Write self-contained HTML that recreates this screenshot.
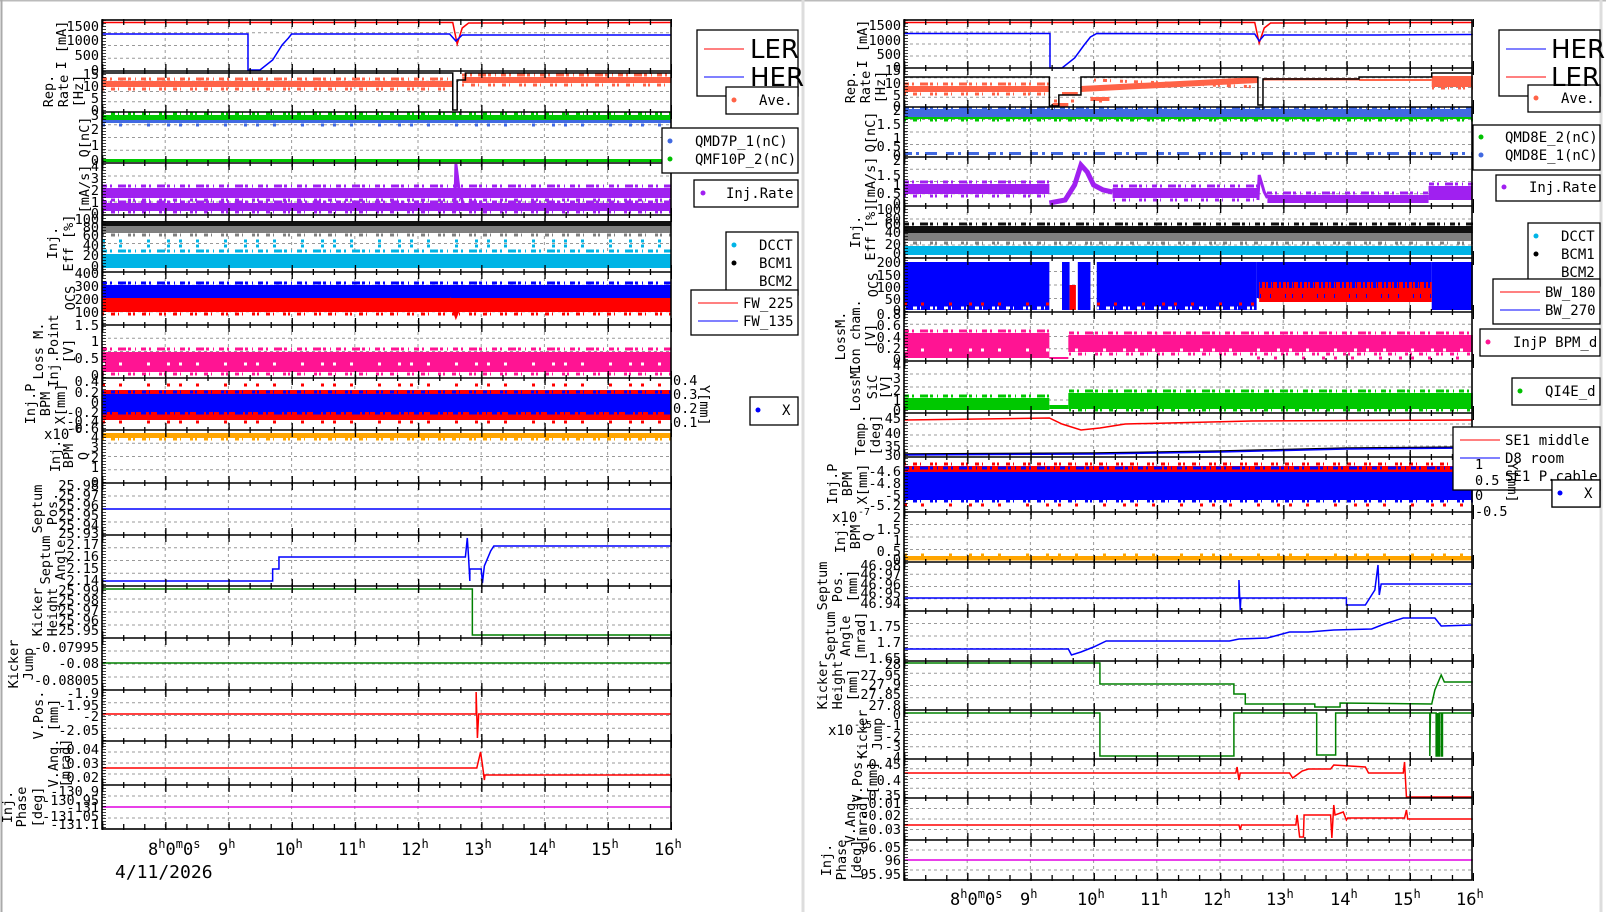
<!DOCTYPE html>
<html><head><meta charset="utf-8"><style>
html,body{margin:0;padding:0;background:#fff;width:1606px;height:912px;overflow:hidden}
svg{display:block;font-family:"DejaVu Sans Mono","Liberation Mono",monospace}
.t{font-size:13.5px;text-anchor:end}
.ti{font-size:13.5px;text-anchor:middle}
.lg{font-size:14px}
.ln{fill:none;stroke-width:1.5;vector-effect:non-scaling-stroke}
.s1{fill:none;stroke-width:3;stroke-dasharray:5 3 2 6 8 2 3 4 1 5}
.s2{fill:none;stroke-width:3;stroke-dasharray:2 7 4 3 1 9 3 2}
.s3{fill:none;stroke-width:3;stroke-dasharray:3 14 3 25 3 17 3 9}
</style></head><body>
<svg width="1606" height="912" viewBox="0 0 1606 912" xmlns="http://www.w3.org/2000/svg">
<rect x="0" y="0" width="1606" height="912" fill="#fff"/>
<line x1="0" y1="0.5" x2="1606" y2="0.5" stroke="#bbb" stroke-width="2"/>
<line x1="1.5" y1="0" x2="1.5" y2="912" stroke="#aaa" stroke-width="2"/>
<line x1="803" y1="0" x2="803" y2="912" stroke="#ddd" stroke-width="3"/>
<line x1="1601" y1="0" x2="1601" y2="912" stroke="#ddd" stroke-width="3"/>

<!-- GRIDS -->
<g stroke="#999" stroke-width="1" stroke-dasharray="3,3" fill="none">
<path d="M165.2 20V829M228.4 20V829M291.6 20V829M354.8 20V829M418 20V829M481.2 20V829M544.4 20V829M607.6 20V829"/>
<path d="M967.2 20V880M1030.4 20V880M1093.6 20V880M1156.8 20V880M1220 20V880M1283.2 20V880M1346.4 20V880M1409.6 20V880"/>
<g transform="translate(102,0)"><path d="M0 32.75h569M0 45.5h569M0 58.25h569M0 81.25h569M0 91.5h569M0 101.75h569M0 124.75h569M0 137.5h569M0 150.25h569M0 176h569M0 189h569M0 202h569M0 229.25h569M0 243.5h569M0 257.75h569M0 285.25h569M0 298.5h569M0 311.75h569M0 338.25h569M0 351.5h569M0 364.75h569M0 391h569M0 404h569M0 417h569M0 443.25h569M0 456.5h569M0 469.75h569M0 496h569M0 509h569M0 522h569M0 547.75h569M0 560.5h569M0 573.25h569M0 599h569M0 612h569M0 625h569M0 651h569M0 664h569M0 677h569M0 702.75h569M0 715.5h569M0 728.25h569M0 752h569M0 763h569M0 774h569M0 796h569M0 807h569M0 818h569"/></g>
<g transform="translate(904,0)"><path d="M0 32h569M0 44h569M0 56h569M0 77.75h569M0 87.5h569M0 97.25h569M0 119.5h569M0 132h569M0 144.5h569M0 169.25h569M0 181.5h569M0 193.75h569M0 219h569M0 232h569M0 245h569M0 271.5h569M0 285h569M0 298.5h569M0 324.25h569M0 336.5h569M0 348.75h569M0 374h569M0 387h569M0 400h569M0 424h569M0 435h569M0 446h569M0 470.75h569M0 484.5h569M0 498.25h569M0 524.5h569M0 537h569M0 549.5h569M0 574.25h569M0 586.5h569M0 598.75h569M0 623.5h569M0 636h569M0 648.5h569M0 673.25h569M0 685.5h569M0 697.75h569M0 722.25h569M0 734.5h569M0 746.75h569M0 768.75h569M0 778.5h569M0 788.25h569M0 808.5h569M0 819h569M0 829.5h569M0 850h569M0 860h569M0 870h569"/></g>
</g>

<!-- LEFT DATA (px offsets) -->
<g transform="translate(102,0)">
<line x1="0" x2="351" y1="79" y2="79" stroke="#ff6347" class="s1"/><line x1="0" x2="351" y1="89" y2="89" stroke="#ff6347" class="s2"/>
<line x1="360" x2="569" y1="75" y2="75" stroke="#ff6347" class="s1"/><line x1="360" x2="569" y1="85" y2="85" stroke="#ff6347" class="s2"/>
<line x1="0" x2="569" y1="114" y2="114" stroke="#00c800" class="s2"/><line x1="0" x2="569" y1="125" y2="125" stroke="#4169e1" class="s3"/>
<line x1="0" x2="569" y1="186" y2="186" stroke="#a020f0" class="s1"/><line x1="0" x2="569" y1="200" y2="200" stroke="#a020f0" class="s2"/><line x1="0" x2="569" y1="202" y2="202" stroke="#a020f0" class="s1"/><line x1="0" x2="569" y1="212" y2="212" stroke="#a020f0" class="s2"/>
<line x1="0" x2="569" y1="235" y2="235" stroke="#808080" class="s2"/><line x1="0" x2="569" y1="251" y2="251" stroke="#00b4e6" class="s1"/><line x1="0" x2="569" y1="246" y2="246" stroke="#00b4e6" class="s3"/><line x1="0" x2="569" y1="241" y2="241" stroke="#00b4e6" class="s3"/>
</g>
<g transform="translate(102,0) scale(63.2,1)">
<polyline class="ln" stroke="red" points="0,22.5 5.55,22.5 5.62,44 5.7,28 5.8,23 9,22.5"/>
<polyline class="ln" stroke="blue" points="0,34 2.31,34 2.31,70 2.5,70 2.7,60 2.85,45 2.95,38 3,34 5.5,34 5.6,41 5.7,35 9,35"/>
<rect x="0" y="81" width="5.55" height="6" fill="#ff6347"/><rect x="5.7" y="77" width="3.3" height="6" fill="#ff6347"/>
<polyline class="ln" stroke="#000" points="0,73 5.55,73 5.55,110 5.62,110 5.62,80 5.75,80 5.75,73 9,73"/>
<rect x="0" y="118" width="9" height="5" fill="#4169e1"/><rect x="0" y="115" width="9" height="5" fill="#00c800"/><rect x="0" y="159" width="9" height="3" fill="#00c800"/>
<rect x="0" y="188" width="9" height="10" fill="#a020f0"/><rect x="0" y="203" width="9" height="8" fill="#a020f0"/>
<polyline class="ln" stroke="#a020f0" stroke-width="3" style="stroke-width:3" points="5.58,212 5.6,164 5.65,190 5.72,205"/>
<rect x="0" y="226" width="9" height="7" fill="#808080"/><rect x="0" y="221" width="9" height="5" fill="#111"/><rect x="0" y="254" width="9" height="14" fill="#00b4e6"/>
<rect x="0" y="285" width="9" height="13" fill="blue"/><rect x="0" y="298" width="9" height="14" fill="red"/>
<polyline class="ln" style="stroke-width:3" stroke="red" points="5.5,298 5.6,316 5.7,300"/>
<rect x="0" y="352" width="9" height="20" fill="#ff1493"/>
<rect x="0" y="390" width="9" height="30" fill="red"/><rect x="0" y="394" width="9" height="18" fill="blue"/>
<rect x="0" y="433" width="9" height="5" fill="#ffa500"/>
<polyline class="ln" stroke="blue" points="0,509 9,509"/>
<polyline class="ln" stroke="blue" points="0,581 2.7,581 2.7,569 2.8,569 2.8,557 5.75,557 5.78,538 5.8,557 5.82,581 5.82,569 6,569 6.02,583 6.05,566 6.15,551 6.2,546 9,546"/>
<polyline class="ln" stroke="#008000" points="0,589 5.86,589 5.86,635 9,635"/>
<polyline class="ln" stroke="#008000" points="0,663 9,663"/>
<polyline class="ln" stroke="red" points="0,714 5.92,714 5.92,692 5.94,738 5.96,714 9,714"/>
<polyline class="ln" stroke="red" points="0,768 5.93,768 5.96,760 5.99,752 6.02,765 6.05,780 6.06,775 9,775"/>
<polyline class="ln" stroke="#e000e0" points="0,807 9,807"/>
</g>
<g transform="translate(102,0)">
<line x1="0" x2="569" y1="283" y2="283" stroke="blue" class="s1"/><line x1="0" x2="569" y1="314" y2="314" stroke="red" class="s2"/>
<line x1="0" x2="569" y1="349" y2="349" stroke="#ff1493" class="s1"/><line x1="0" x2="569" y1="374" y2="374" stroke="#ff1493" class="s2"/><line x1="0" x2="569" y1="364" y2="364" stroke="#fff" class="s3"/>
<line x1="0" x2="569" y1="392" y2="392" stroke="blue" class="s2"/><line x1="0" x2="569" y1="413" y2="413" stroke="blue" class="s1"/><line x1="0" x2="569" y1="385" y2="385" stroke="red" class="s3"/><line x1="0" x2="569" y1="422" y2="422" stroke="red" class="s3"/>
<line x1="0" x2="569" y1="439" y2="439" stroke="#ffa500" class="s2"/>
</g>

<!-- RIGHT DATA -->
<g transform="translate(904,0)">
<line x1="0" x2="145" y1="84" y2="84" stroke="#ff6347" class="s1"/><line x1="0" x2="145" y1="94" y2="94" stroke="#ff6347" class="s2"/>
<line x1="190" x2="354" y1="80" y2="87" stroke="#ff6347" class="s2"/>
<line x1="528" x2="569" y1="78" y2="78" stroke="#ff6347" class="s1"/><line x1="528" x2="569" y1="88" y2="88" stroke="#ff6347" class="s2"/>
<line x1="150" x2="200" y1="101" y2="101" stroke="#ff6347" class="s3"/>
<line x1="0" x2="569" y1="120" y2="120" stroke="#00c800" class="s2"/><line x1="0" x2="569" y1="108" y2="108" stroke="#4169e1" class="s1"/>
<line x1="0" x2="569" y1="153.5" y2="153.5" stroke="#4169e1" stroke-width="3" stroke-dasharray="8 4 3 6 12 9"/>
<line x1="0" x2="145" y1="182" y2="182" stroke="#a020f0" class="s1"/><line x1="0" x2="145" y1="196" y2="196" stroke="#a020f0" class="s2"/>
<line x1="209" x2="354" y1="186" y2="186" stroke="#a020f0" class="s1"/><line x1="209" x2="354" y1="200" y2="200" stroke="#a020f0" class="s2"/>
<line x1="363" x2="525" y1="193" y2="193" stroke="#a020f0" class="s1"/><line x1="525" x2="569" y1="184" y2="184" stroke="#a020f0" class="s1"/>
<line x1="0" x2="569" y1="224" y2="224" stroke="#111" class="s1"/><line x1="0" x2="569" y1="243" y2="243" stroke="#808080" class="s2"/>
</g>
<g transform="translate(904,0) scale(63.2,1)">
<polyline class="ln" stroke="red" points="0,22.5 5.55,22.5 5.62,43 5.7,28 5.8,23 9,22.5"/>
<polyline class="ln" stroke="blue" points="0,33.5 2.31,33.5 2.31,68 2.5,68 2.7,58 2.85,45 2.95,37 3.05,33.5 5.55,34 5.62,41 5.7,35 7.5,35 9,34.5"/>
<rect x="0" y="86" width="2.3" height="6" fill="#ff6347"/>
<polygon points="2.8,86 5.6,77 5.6,83 2.8,92" fill="#ff6347"/>
<rect x="5.68" y="78" width="1.52" height="2.5" fill="#ff6347"/><rect x="7.2" y="79" width="1.15" height="2" fill="#ff6347"/><rect x="8.35" y="76" width="0.65" height="11" fill="#ff6347"/>
<rect x="2.5" y="92" width="0.25" height="3" fill="#ff6347"/><rect x="2.95" y="97" width="0.3" height="4" fill="#ff6347"/><rect x="2.35" y="103" width="0.25" height="4" fill="#ff6347"/>
<polyline class="ln" stroke="#000" points="0,77 2.3,77 2.3,106 2.45,106 2.45,95 2.8,95 2.8,77 5.6,77 5.6,105 5.68,105 5.68,79 7.2,79 7.2,77 8.35,77 8.35,73 9,73"/>
<rect x="0" y="113" width="9" height="6" fill="#00c800"/><rect x="0" y="109" width="9" height="8" fill="#4169e1"/>
<rect x="0" y="184" width="2.3" height="10" fill="#a020f0"/><rect x="3.3" y="188" width="2.3" height="10" fill="#a020f0"/><rect x="5.75" y="195" width="2.55" height="8" fill="#a020f0"/><rect x="8.3" y="186" width="0.7" height="14" fill="#a020f0"/>
<polyline class="ln" style="stroke-width:5" stroke="#a020f0" points="2.3,203 2.55,200 2.7,185 2.8,165 2.9,172 3.0,185 3.15,190 3.3,192"/>
<polyline class="ln" style="stroke-width:3" stroke="#a020f0" points="5.6,200 5.62,175 5.7,192 5.75,198"/>
<rect x="0" y="232" width="9" height="9" fill="#808080"/><rect x="0" y="226" width="9" height="7" fill="#111"/><rect x="0" y="246" width="9" height="9" fill="#00b4e6"/>
<rect x="0" y="262" width="2.3" height="48" fill="blue"/><rect x="2.5" y="262" width="0.12" height="48" fill="blue"/><rect x="2.75" y="262" width="0.2" height="48" fill="blue"/>
<rect x="3.05" y="262" width="2.53" height="48" fill="blue"/><rect x="5.58" y="262" width="2.77" height="36" fill="blue"/><rect x="8.35" y="262" width="0.65" height="48" fill="blue"/>
<rect x="5.62" y="282" width="2.73" height="20" fill="red"/>
<rect x="2.62" y="285" width="0.1" height="25" fill="red"/>
<rect x="0" y="333" width="2.3" height="25" fill="#ff1493"/><rect x="2.6" y="335" width="6.4" height="17" fill="#ff1493"/><rect x="2.3" y="357" width="0.3" height="2" fill="#ff1493"/>
<rect x="0" y="398" width="2.3" height="12" fill="#00c800"/><rect x="2.6" y="393" width="6.4" height="16" fill="#00c800"/><rect x="2.3" y="405" width="0.3" height="4" fill="#00c800"/>
<polyline class="ln" stroke="red" points="0,420 2.3,418 2.5,424 2.8,430 3.1,428 3.5,424 5.5,421 9,420"/>
<polyline class="ln" stroke="#000" points="0,454 3,453 5,451 7,448 9,447"/>
<polyline class="ln" stroke="blue" points="0,455 3,454 5,452 7,449 9,448"/>
<rect x="0" y="466" width="9" height="22" fill="red"/><rect x="0" y="472" width="9" height="28" fill="blue"/>
<rect x="0" y="556" width="9" height="4.5" fill="#ffa500"/>
<polyline class="ln" stroke="blue" points="0,598 5.3,598 5.3,580 5.32,610 5.33,598 7,598 7,605 7.3,605 7.45,590 7.5,565 7.52,595 7.55,584 9,584"/>
<polyline class="ln" stroke="blue" points="0,649 2.6,649 2.65,655 2.8,652 3,647 3.2,641 5.15,641 5.3,639 5.75,638 6.1,632 6.4,632 6.8,630 7.4,629 7.6,624 7.9,618 8.4,618 8.5,626 9,625"/>
<polyline class="ln" stroke="#008000" points="0,663 3.1,663 3.1,684 5.22,684 5.22,694 5.4,694 5.4,704 6.5,704 6.5,707 6.9,707 6.9,703 8.35,704 8.4,690 8.5,675 8.55,682 9,682"/>
<polyline class="ln" stroke="#008000" points="0,713 3.1,713 3.1,756 5.22,756 5.22,713 6.53,713 6.53,755 6.83,755 6.83,713 8.32,713 8.32,756 8.33,713 8.42,713 8.42,756 8.47,756 8.47,713 8.5,713 8.5,756 8.52,756 8.52,713 9,713"/>
<rect x="8.42" y="713" width="0.05" height="43" fill="#008000"/>
<polyline class="ln" stroke="red" points="0,773 5.25,773 5.27,767 5.3,780 5.32,773 6.1,773 6.15,778 6.3,771 6.4,769 6.75,769 6.8,765 7.3,767 7.35,773 7.9,773 7.92,762 7.95,797 9,797"/>
<polyline class="ln" stroke="red" points="0,825 5.3,825 5.32,830 5.34,825 6.2,825 6.22,815 6.26,837 6.32,837 6.33,815 6.75,815 6.77,838 6.8,805 6.82,815 6.95,812 7,820 7.02,818 7.92,818 7.95,810 7.97,819 9,819"/>
<polyline class="ln" stroke="#e000e0" points="0,860 9,860"/>
</g>
<g transform="translate(904,0)">
<line x1="0" x2="145" y1="308" y2="308" stroke="#fff" class="s2"/><line x1="0" x2="145" y1="304" y2="304" stroke="red" class="s3"/>
<line x1="193" x2="350" y1="308" y2="308" stroke="#fff" class="s2"/><line x1="193" x2="350" y1="304" y2="304" stroke="red" class="s3"/>
<line x1="356" x2="528" y1="283" y2="283" stroke="blue" stroke-width="10" stroke-dasharray="2 3 1 2 3 1 1 4 2 2"/>
<line x1="356" x2="528" y1="296" y2="296" stroke="blue" stroke-width="4" stroke-dasharray="1 9 1 14 1 6"/>
<line x1="0" x2="145" y1="331" y2="331" stroke="#ff1493" class="s1"/><line x1="165" x2="569" y1="333" y2="333" stroke="#ff1493" class="s1"/><line x1="165" x2="569" y1="354" y2="354" stroke="#ff1493" class="s2"/>
<line x1="353" x2="569" y1="358" y2="358" stroke="#ff1493" class="s3"/><line x1="0" x2="569" y1="350" y2="350" stroke="#fff" class="s3"/>
<line x1="0" x2="145" y1="396" y2="396" stroke="#00c800" class="s1"/><line x1="165" x2="569" y1="391" y2="391" stroke="#00c800" class="s1"/><line x1="165" x2="569" y1="410" y2="410" stroke="#00c800" class="s2"/>
<line x1="0" x2="569" y1="464" y2="464" stroke="red" class="s2"/><line x1="0" x2="569" y1="468" y2="468" stroke="blue" class="s1"/><line x1="0" x2="569" y1="501" y2="501" stroke="blue" class="s2"/><line x1="0" x2="569" y1="505" y2="505" stroke="red" class="s3"/>
<line x1="0" x2="569" y1="555" y2="555" stroke="#ffa500" class="s3"/>
</g>

<!-- FRAMES & TICKS -->
<g fill="none" stroke="#000">
<rect x="102" y="20" width="569" height="809" stroke-width="1.6"/>
<rect x="904" y="20" width="568" height="860" stroke-width="1.6"/>
<path stroke-width="1.6" d="M102 71h569M102 112h569M102 163h569M102 215h569M102 272h569M102 325h569M102 378h569M102 430h569M102 483h569M102 535h569M102 586h569M102 638h569M102 690h569M102 741h569M102 785h569"/>
<path stroke-width="1.6" d="M904 68h568M904 107h568M904 157h568M904 206h568M904 258h568M904 312h568M904 361h568M904 413h568M904 457h568M904 512h568M904 562h568M904 611h568M904 661h568M904 710h568M904 759h568M904 798h568M904 840h568"/>
<g stroke-width="14" stroke-dasharray="1.3 61.9">
<path d="M102 71h570M102 112h570M102 163h570M102 215h570M102 272h570M102 325h570M102 378h570M102 430h570M102 483h570M102 535h570M102 586h570M102 638h570M102 690h570M102 741h570M102 785h570"/>
<path d="M904 68h570M904 107h570M904 157h570M904 206h570M904 258h570M904 312h570M904 361h570M904 413h570M904 457h570M904 512h570M904 562h570M904 611h570M904 661h570M904 710h570M904 759h570M904 798h570M904 840h570"/>
</g>
<g stroke-width="7" stroke-dasharray="1.3 61.9">
<path d="M102 23.5h570M102 825.5h570M904 23.5h570M904 876.5h570"/>
</g>
<g stroke-width="6" stroke-dasharray="1.3 19.77">
<path d="M102 71h570M102 112h570M102 163h570M102 215h570M102 272h570M102 325h570M102 378h570M102 430h570M102 483h570M102 535h570M102 586h570M102 638h570M102 690h570M102 741h570M102 785h570M102 22h570M102 827h570"/>
<path d="M904 68h570M904 107h570M904 157h570M904 206h570M904 258h570M904 312h570M904 361h570M904 413h570M904 457h570M904 512h570M904 562h570M904 611h570M904 661h570M904 710h570M904 759h570M904 798h570M904 840h570M904 22h570M904 878h570"/>
</g>
<path stroke-width="4" stroke-dasharray="0.8 2.2" d="M104 20V829M906 20V880"/>
</g>

<!-- LEFT tick labels -->
<g>
<text x="99" y="31" class="t">1500</text><text x="99" y="45" class="t">1000</text><text x="99" y="60" class="t">500</text><text x="99" y="75" class="t">0</text>
<text x="99" y="79" class="t">15</text><text x="99" y="91" class="t">10</text><text x="99" y="103" class="t">5</text><text x="99" y="115" class="t">0</text>
<text x="99" y="120" class="t">3</text><text x="99" y="134" class="t">2</text><text x="99" y="150" class="t">1</text><text x="99" y="165" class="t">0</text>
<text x="99" y="171" class="t">4</text><text x="99" y="183" class="t">3</text><text x="99" y="195" class="t">2</text><text x="99" y="207" class="t">1</text><text x="99" y="218" class="t">0</text>
<text x="99" y="224" class="t">100</text><text x="99" y="232" class="t">80</text><text x="99" y="240" class="t">60</text><text x="99" y="250" class="t">40</text><text x="99" y="260" class="t">20</text><text x="99" y="271" class="t">0</text>
<text x="99" y="278" class="t">400</text><text x="99" y="291" class="t">300</text><text x="99" y="304" class="t">200</text><text x="99" y="317" class="t">100</text>
<text x="99" y="330" class="t">1.5</text><text x="99" y="346" class="t">1</text><text x="99" y="363" class="t">0.5</text><text x="99" y="380" class="t">0</text>
<text x="99" y="386" class="t">0.4</text><text x="99" y="397" class="t">0.2</text><text x="99" y="407" class="t">0</text><text x="99" y="417" class="t">-0.2</text><text x="99" y="426" class="t">-0.4</text><text x="99" y="433" class="t">-0.6</text>
<text x="99" y="442" class="t">4</text><text x="99" y="452" class="t">3</text><text x="99" y="462" class="t">2</text><text x="99" y="472" class="t">1</text><text x="99" y="487" class="t">0</text>
<text x="99" y="490" class="t">25.98</text><text x="99" y="500" class="t">25.97</text><text x="99" y="510" class="t">25.96</text><text x="99" y="520" class="t">25.95</text><text x="99" y="530" class="t">25.94</text><text x="99" y="538" class="t">25.93</text>
<text x="99" y="549" class="t">2.17</text><text x="99" y="561" class="t">2.16</text><text x="99" y="573" class="t">2.15</text><text x="99" y="585" class="t">2.14</text>
<text x="99" y="595" class="t">25.99</text><text x="99" y="605" class="t">25.98</text><text x="99" y="615" class="t">25.97</text><text x="99" y="625" class="t">25.96</text><text x="99" y="635" class="t">25.95</text>
<text x="99" y="652" class="t">-0.07995</text><text x="99" y="668" class="t">-0.08</text><text x="99" y="685" class="t">-0.08005</text>
<text x="99" y="698" class="t">-1.9</text><text x="99" y="710" class="t">-1.95</text><text x="99" y="721" class="t">-2</text><text x="99" y="735" class="t">-2.05</text>
<text x="99" y="754" class="t">0.04</text><text x="99" y="768" class="t">0.03</text><text x="99" y="782" class="t">0.02</text>
<text x="99" y="796" class="t">-130.9</text><text x="99" y="805" class="t">-130.95</text><text x="99" y="812" class="t">-131</text><text x="99" y="821" class="t">-131.05</text><text x="99" y="829" class="t">-131.1</text>
</g>
<!-- LEFT titles -->
<g>
<text class="ti" transform="translate(66,45) rotate(-90)">I [mA]</text>
<text class="ti" transform="translate(53,91) rotate(-90)">Rep.</text><text class="ti" transform="translate(68,91) rotate(-90)">Rate</text><text class="ti" transform="translate(83,91) rotate(-90)">[Hz]</text>
<text class="ti" transform="translate(89,137) rotate(-90)">Q[nC]</text>
<text class="ti" transform="translate(89,189) rotate(-90)">[mA/s]</text>
<text class="ti" transform="translate(57,243) rotate(-90)">Inj.</text><text class="ti" transform="translate(73,243) rotate(-90)">Eff [%]</text>
<text class="ti" transform="translate(75,298) rotate(-90)">OCS</text>
<text class="ti" transform="translate(43,351) rotate(-90)">Loss M.</text><text class="ti" transform="translate(58,351) rotate(-90)">Inj.Point</text><text class="ti" transform="translate(73,351) rotate(-90)">[V]</text>
<text class="ti" transform="translate(35,404) rotate(-90)">Inj.P</text><text class="ti" transform="translate(50,404) rotate(-90)">BPM</text><text class="ti" transform="translate(65,404) rotate(-90)">X[mm]</text>
<text class="ti" transform="translate(60,456) rotate(-90)">Inj.</text><text class="ti" transform="translate(73,456) rotate(-90)">BPM</text><text class="ti" transform="translate(88,456) rotate(-90)">Q</text>
<text class="ti" transform="translate(42,509) rotate(-90)">Septum</text><text class="ti" transform="translate(57,509) rotate(-90)">Pos.</text>
<text class="ti" transform="translate(50,560) rotate(-90)">Septum</text><text class="ti" transform="translate(65,560) rotate(-90)">Angle</text>
<text class="ti" transform="translate(42,612) rotate(-90)">Kicker</text><text class="ti" transform="translate(57,612) rotate(-90)">Height</text>
<text class="ti" transform="translate(18,664) rotate(-90)">Kicker</text><text class="ti" transform="translate(33,664) rotate(-90)">Jump</text>
<text class="ti" transform="translate(43,715) rotate(-90)">V.Pos.</text><text class="ti" transform="translate(58,715) rotate(-90)">[mm]</text>
<text class="ti" transform="translate(58,763) rotate(-90)">V.Ang.</text><text class="ti" transform="translate(70,763) rotate(-90)">[mrad]</text>
<text class="ti" transform="translate(12,807) rotate(-90)">Inj.</text><text class="ti" transform="translate(26,807) rotate(-90)">Phase</text><text class="ti" transform="translate(42,807) rotate(-90)">[deg]</text>
</g>
<text x="44" y="439" font-size="14">x10</text><text x="70" y="432" font-size="10">-6</text>
<text x="673" y="385" font-size="13.5">0.4</text><text x="673" y="399" font-size="13.5">0.3</text><text x="673" y="413" font-size="13.5">0.2</text><text x="673" y="427" font-size="13.5">0.1</text>
<text font-size="13.5" transform="translate(700,385) rotate(90)">Y[mm]</text>

<!-- LEFT x labels -->
<g>
<text x="148" y="855" font-size="17">8<tspan dy="-7" font-size="12">h</tspan><tspan dy="7">0</tspan><tspan dy="-7" font-size="12">m</tspan><tspan dy="7">0</tspan><tspan dy="-7" font-size="12">s</tspan></text>
<text x="218" y="855" font-size="17">9<tspan dy="-7" font-size="12">h</tspan></text>
<text x="275" y="855" font-size="17">10<tspan dy="-7" font-size="12">h</tspan></text>
<text x="338" y="855" font-size="17">11<tspan dy="-7" font-size="12">h</tspan></text>
<text x="401" y="855" font-size="17">12<tspan dy="-7" font-size="12">h</tspan></text>
<text x="464" y="855" font-size="17">13<tspan dy="-7" font-size="12">h</tspan></text>
<text x="528" y="855" font-size="17">14<tspan dy="-7" font-size="12">h</tspan></text>
<text x="591" y="855" font-size="17">15<tspan dy="-7" font-size="12">h</tspan></text>
<text x="654" y="855" font-size="17">16<tspan dy="-7" font-size="12">h</tspan></text>
<text x="115" y="878" font-size="18">4/11/2026</text>
</g>

<!-- RIGHT tick labels -->
<g>
<text x="901" y="30" class="t">1500</text><text x="901" y="45" class="t">1000</text><text x="901" y="59" class="t">500</text><text x="901" y="72" class="t">0</text>
<text x="901" y="75" class="t">15</text><text x="901" y="88" class="t">10</text><text x="901" y="100" class="t">5</text><text x="901" y="111" class="t">0</text>
<text x="901" y="115" class="t">2</text><text x="901" y="129" class="t">1.5</text><text x="901" y="143" class="t">1</text><text x="901" y="151" class="t">0.5</text><text x="901" y="160" class="t">0</text>
<text x="901" y="165" class="t">2</text><text x="901" y="180" class="t">1.5</text><text x="901" y="190" class="t">1</text><text x="901" y="198" class="t">0.5</text><text x="901" y="208" class="t">0</text>
<text x="901" y="214" class="t">100</text><text x="901" y="223" class="t">80</text><text x="901" y="229" class="t">60</text><text x="901" y="237" class="t">40</text><text x="901" y="249" class="t">20</text><text x="901" y="258" class="t">0</text>
<text x="901" y="267" class="t">200</text><text x="901" y="280" class="t">150</text><text x="901" y="292" class="t">100</text><text x="901" y="304" class="t">50</text><text x="901" y="315" class="t">0</text>
<text x="901" y="319" class="t">0.8</text><text x="901" y="330" class="t">0.6</text><text x="901" y="342" class="t">0.4</text><text x="901" y="353" class="t">0.2</text><text x="901" y="364" class="t">0</text>
<text x="901" y="370" class="t">4</text><text x="901" y="383" class="t">3</text><text x="901" y="395" class="t">2</text><text x="901" y="405" class="t">1</text><text x="901" y="415" class="t">0</text>
<text x="901" y="423" class="t">45</text><text x="901" y="438" class="t">40</text><text x="901" y="451" class="t">35</text><text x="901" y="460" class="t">30</text>
<text x="901" y="476" class="t">-4.6</text><text x="901" y="488" class="t">-4.8</text><text x="901" y="500" class="t">-5</text><text x="901" y="510" class="t">-5.2</text>
<text x="901" y="522" class="t">2</text><text x="901" y="534" class="t">1.5</text><text x="901" y="545" class="t">1</text><text x="901" y="556" class="t">0.5</text><text x="901" y="564" class="t">0</text>
<text x="901" y="570" class="t">46.98</text><text x="901" y="579" class="t">46.97</text><text x="901" y="589" class="t">46.96</text><text x="901" y="598" class="t">46.95</text><text x="901" y="608" class="t">46.94</text>
<text x="901" y="631" class="t">1.75</text><text x="901" y="647" class="t">1.7</text><text x="901" y="663" class="t">1.65</text>
<text x="901" y="669" class="t">28</text><text x="901" y="680" class="t">27.95</text><text x="901" y="689" class="t">27.9</text><text x="901" y="699" class="t">27.85</text><text x="901" y="710" class="t">27.8</text>
<text x="901" y="719" class="t">0</text><text x="901" y="730" class="t">-1</text><text x="901" y="741" class="t">-2</text><text x="901" y="751" class="t">-3</text><text x="901" y="762" class="t">-4</text>
<text x="901" y="769" class="t">0.45</text><text x="901" y="785" class="t">0.4</text><text x="901" y="800" class="t">0.35</text>
<text x="901" y="808" class="t">-0.01</text><text x="901" y="820" class="t">-0.02</text><text x="901" y="834" class="t">-0.03</text>
<text x="901" y="852" class="t">96.05</text><text x="901" y="865" class="t">96</text><text x="901" y="879" class="t">95.95</text>
</g>
<!-- RIGHT titles -->
<g>
<text class="ti" transform="translate(867,44) rotate(-90)">I [mA]</text>
<text class="ti" transform="translate(855,87) rotate(-90)">Rep.</text><text class="ti" transform="translate(870,87) rotate(-90)">Rate</text><text class="ti" transform="translate(885,87) rotate(-90)">[Hz]</text>
<text class="ti" transform="translate(875,132) rotate(-90)">Q[nC]</text>
<text class="ti" transform="translate(875,181) rotate(-90)">[mA/s]</text>
<text class="ti" transform="translate(860,232) rotate(-90)">Inj.</text><text class="ti" transform="translate(875,232) rotate(-90)">Eff [%]</text>
<text class="ti" transform="translate(878,285) rotate(-90)">OCS</text>
<text class="ti" transform="translate(845,336) rotate(-90)">LossM.</text><text class="ti" transform="translate(860,336) rotate(-90)">Ion cham.</text><text class="ti" transform="translate(875,336) rotate(-90)">[V]</text>
<text class="ti" transform="translate(860,387) rotate(-90)">LossM.</text><text class="ti" transform="translate(877,387) rotate(-90)">SiC</text><text class="ti" transform="translate(890,387) rotate(-90)">[V]</text>
<text class="ti" transform="translate(865,435) rotate(-90)">Temp.</text><text class="ti" transform="translate(880,435) rotate(-90)">[deg]</text>
<text class="ti" transform="translate(837,484) rotate(-90)">Inj.P</text><text class="ti" transform="translate(852,484) rotate(-90)">BPM</text><text class="ti" transform="translate(867,484) rotate(-90)">X[mm]</text>
<text class="ti" transform="translate(845,537) rotate(-90)">Inj.</text><text class="ti" transform="translate(860,537) rotate(-90)">BPM</text><text class="ti" transform="translate(873,537) rotate(-90)">Q</text>
<text class="ti" transform="translate(827,586) rotate(-90)">Septum</text><text class="ti" transform="translate(842,586) rotate(-90)">Pos.</text><text class="ti" transform="translate(857,586) rotate(-90)">[mm]</text>
<text class="ti" transform="translate(835,636) rotate(-90)">Septum</text><text class="ti" transform="translate(850,636) rotate(-90)">Angle</text><text class="ti" transform="translate(865,636) rotate(-90)">[mrad]</text>
<text class="ti" transform="translate(827,685) rotate(-90)">Kicker</text><text class="ti" transform="translate(842,685) rotate(-90)">Height</text><text class="ti" transform="translate(857,685) rotate(-90)">[mm]</text>
<text class="ti" transform="translate(867,734) rotate(-90)">Kicker</text><text class="ti" transform="translate(882,734) rotate(-90)">Jump</text>
<text class="ti" transform="translate(862,778) rotate(-90)">V.Pos.</text><text class="ti" transform="translate(877,778) rotate(-90)">[mm]</text>
<text class="ti" transform="translate(855,819) rotate(-90)">V.Ang.</text><text class="ti" transform="translate(867,819) rotate(-90)">[mrad]</text>
<text class="ti" transform="translate(831,860) rotate(-90)">Inj.</text><text class="ti" transform="translate(846,860) rotate(-90)">Phase</text><text class="ti" transform="translate(861,860) rotate(-90)">[deg]</text>
</g>
<text x="832" y="522" font-size="14">x10</text><text x="858" y="515" font-size="10">-7</text>
<text x="828" y="735" font-size="14">x10</text><text x="854" y="728" font-size="10">-15</text>

<!-- RIGHT x labels -->
<g>
<text x="950" y="905" font-size="17">8<tspan dy="-7" font-size="12">h</tspan><tspan dy="7">0</tspan><tspan dy="-7" font-size="12">m</tspan><tspan dy="7">0</tspan><tspan dy="-7" font-size="12">s</tspan></text>
<text x="1020" y="905" font-size="17">9<tspan dy="-7" font-size="12">h</tspan></text>
<text x="1077" y="905" font-size="17">10<tspan dy="-7" font-size="12">h</tspan></text>
<text x="1140" y="905" font-size="17">11<tspan dy="-7" font-size="12">h</tspan></text>
<text x="1203" y="905" font-size="17">12<tspan dy="-7" font-size="12">h</tspan></text>
<text x="1266" y="905" font-size="17">13<tspan dy="-7" font-size="12">h</tspan></text>
<text x="1330" y="905" font-size="17">14<tspan dy="-7" font-size="12">h</tspan></text>
<text x="1393" y="905" font-size="17">15<tspan dy="-7" font-size="12">h</tspan></text>
<text x="1456" y="905" font-size="17">16<tspan dy="-7" font-size="12">h</tspan></text>
</g>

<!-- LEFT legends -->
<g stroke="#000" stroke-width="1.3" fill="#fff">
<rect x="697" y="30" width="101" height="66"/>
<rect x="726" y="87" width="72" height="27"/>
<rect x="662" y="128" width="136" height="45"/>
<rect x="694" y="180" width="104" height="27"/>
<rect x="726" y="232" width="72" height="63"/>
<rect x="691" y="290" width="107" height="45"/>
<rect x="750" y="397" width="48" height="28"/>
</g>
<line x1="704" y1="49" x2="744" y2="49" stroke="red"/><line x1="704" y1="77" x2="744" y2="77" stroke="blue"/>
<text x="750" y="58" font-size="26" font-family="DejaVu Sans">LER</text><text x="750" y="86" font-size="26" font-family="DejaVu Sans">HER</text>
<circle cx="734" cy="100" r="2.5" fill="#ff6347"/><text x="759" y="105" class="lg">Ave.</text>
<circle cx="670" cy="141" r="2.5" fill="#4169e1"/><circle cx="670" cy="159" r="2.5" fill="#00c000"/>
<text x="695" y="146" class="lg">QMD7P_1(nC)</text><text x="695" y="164" class="lg">QMF10P_2(nC)</text>
<circle cx="703" cy="193" r="2.5" fill="#a020f0"/><text x="726" y="198" class="lg">Inj.Rate</text>
<circle cx="734" cy="245" r="2.5" fill="#00b4e6"/><circle cx="734" cy="263" r="2.5" fill="#000"/>
<text x="759" y="250" class="lg">DCCT</text><text x="759" y="268" class="lg">BCM1</text><text x="759" y="286" class="lg">BCM2</text>
<line x1="698" y1="303" x2="738" y2="303" stroke="red"/><line x1="698" y1="321" x2="738" y2="321" stroke="blue"/>
<text x="743" y="308" class="lg">FW_225</text><text x="743" y="326" class="lg">FW_135</text>
<circle cx="758" cy="410" r="2.5" fill="blue"/><text x="782" y="415" class="lg">X</text>

<!-- RIGHT legends -->
<g stroke="#000" stroke-width="1.3" fill="#fff">
<rect x="1499" y="30" width="101" height="66"/>
<rect x="1528" y="85" width="72" height="27"/>
<rect x="1473" y="125" width="127" height="45"/>
<rect x="1496" y="175" width="104" height="26"/>
<rect x="1528" y="223" width="72" height="63"/>
<rect x="1493" y="279" width="107" height="45"/>
<rect x="1480" y="329" width="120" height="27"/>
<rect x="1512" y="378" width="88" height="27"/>
<rect x="1453" y="427" width="147" height="63"/>
<rect x="1552" y="480" width="48" height="27"/>
</g>
<line x1="1506" y1="49" x2="1546" y2="49" stroke="blue"/><line x1="1506" y1="77" x2="1546" y2="77" stroke="red"/>
<text x="1551" y="58" font-size="26" font-family="DejaVu Sans">HER</text><text x="1551" y="86" font-size="26" font-family="DejaVu Sans">LER</text>
<circle cx="1536" cy="98" r="2.5" fill="#ff6347"/><text x="1561" y="103" class="lg">Ave.</text>
<circle cx="1481" cy="137" r="2.5" fill="#00c000"/><circle cx="1481" cy="155" r="2.5" fill="#4169e1"/>
<text x="1505" y="142" class="lg">QMD8E_2(nC)</text><text x="1505" y="160" class="lg">QMD8E_1(nC)</text>
<circle cx="1504" cy="187" r="2.5" fill="#a020f0"/><text x="1529" y="192" class="lg">Inj.Rate</text>
<circle cx="1536" cy="236" r="2.5" fill="#00b4e6"/><circle cx="1536" cy="254" r="2.5" fill="#000"/>
<text x="1561" y="241" class="lg">DCCT</text><text x="1561" y="259" class="lg">BCM1</text><text x="1561" y="277" class="lg">BCM2</text>
<line x1="1500" y1="292" x2="1540" y2="292" stroke="red"/><line x1="1500" y1="310" x2="1540" y2="310" stroke="blue"/>
<text x="1545" y="297" class="lg">BW_180</text><text x="1545" y="315" class="lg">BW_270</text>
<circle cx="1488" cy="342" r="2.5" fill="#ff1493"/><text x="1513" y="347" class="lg">InjP BPM_d</text>
<circle cx="1520" cy="391" r="2.5" fill="#00c000"/><text x="1545" y="396" class="lg">QI4E_d</text>
<line x1="1460" y1="440" x2="1500" y2="440" stroke="red"/><line x1="1460" y1="458" x2="1500" y2="458" stroke="blue"/>
<text x="1505" y="445" class="lg">SE1 middle</text><text x="1505" y="463" class="lg">D8 room</text><text x="1505" y="481" class="lg">SE1 P.cable</text>
<text x="1475" y="469" font-size="13.5">1</text><text x="1475" y="485" font-size="13.5">0.5</text><text x="1475" y="500" font-size="13.5">0</text><text x="1475" y="516" font-size="13.5">-0.5</text>
<text font-size="13.5" transform="translate(1508,462) rotate(90)">Y[mm]</text>
<rect x="1552" y="480" width="48" height="27" fill="#fff" stroke="#000" stroke-width="1.3"/>
<circle cx="1560" cy="493" r="2.5" fill="blue"/><text x="1584" y="498" class="lg">X</text>
</svg>
</body></html>
